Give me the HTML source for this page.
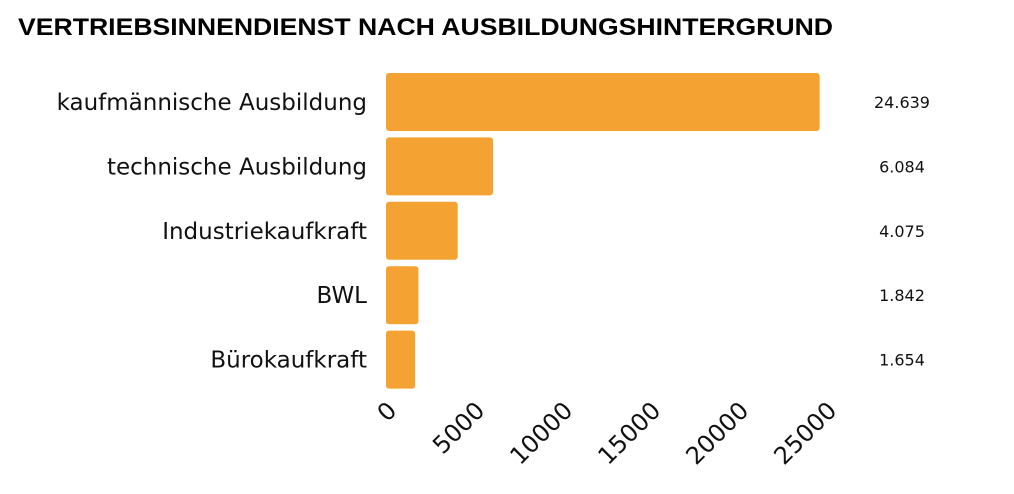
<!DOCTYPE html>
<html><head><meta charset="utf-8"><style>
body{margin:0;background:#fff;width:1014px;height:489px;overflow:hidden}
svg text{font-family:"DejaVu Sans","Liberation Sans",sans-serif}
</style></head><body>
<svg width="1014" height="489">
<text x="18" y="35" font-size="24" font-weight="bold" fill="#000" textLength="815" lengthAdjust="spacingAndGlyphs" style="font-family:'Liberation Sans',sans-serif">VERTRIEBSINNENDIENST NACH AUSBILDUNGSHINTERGRUND</text>
<g id="bars"></g>
</svg>
<script>
const categories=["kaufmännische Ausbildung","technische Ausbildung","Industriekaufkraft","BWL","Bürokaufkraft"];
const values=[24639,6084,4075,1842,1654];
const valueLabels=["24.639","6.084","4.075","1.842","1.654"];
const ticks=[0,5000,10000,15000,20000,25000];
const x0=386,x1=826,maxV=25000;
const xs=v=>x0+(v/maxV)*(x1-x0);
const rowY=i=>73+i*64.4;
const g=document.getElementById('bars');
const NS="http://www.w3.org/2000/svg";
categories.forEach((c,i)=>{
 const y=rowY(i);
 const r=document.createElementNS(NS,'rect');
 r.setAttribute('x',x0);r.setAttribute('y',y);r.setAttribute('width',xs(values[i])-x0);r.setAttribute('height',58);
 r.setAttribute('rx',3);r.setAttribute('fill','#F4A232');
 
 
 g.appendChild(r);
 const t=document.createElementNS(NS,'text');
 t.setAttribute('x',367);t.setAttribute('y',y+37);t.setAttribute('text-anchor','end');t.setAttribute('font-size','23');t.setAttribute('fill','#111');
 t.textContent=c;
 
 
 g.appendChild(t);
 const v=document.createElementNS(NS,'text');
 v.setAttribute('x',902);v.setAttribute('y',y+35);v.setAttribute('text-anchor','middle');v.setAttribute('font-size','16');v.setAttribute('fill','#111');
 v.textContent=valueLabels[i];
 
 
 g.appendChild(v);
});
ticks.forEach(tk=>{
 const x=xs(tk)+12,y=412;
 const t=document.createElementNS(NS,'text');
 t.setAttribute('x',x);t.setAttribute('y',y);t.setAttribute('text-anchor','end');t.setAttribute('font-size','24');t.setAttribute('fill','#111');
 t.setAttribute('transform','rotate(-45 '+x+' '+y+')');
 t.textContent=String(tk);
 
 
 g.appendChild(t);
});
</script>
</body></html>
